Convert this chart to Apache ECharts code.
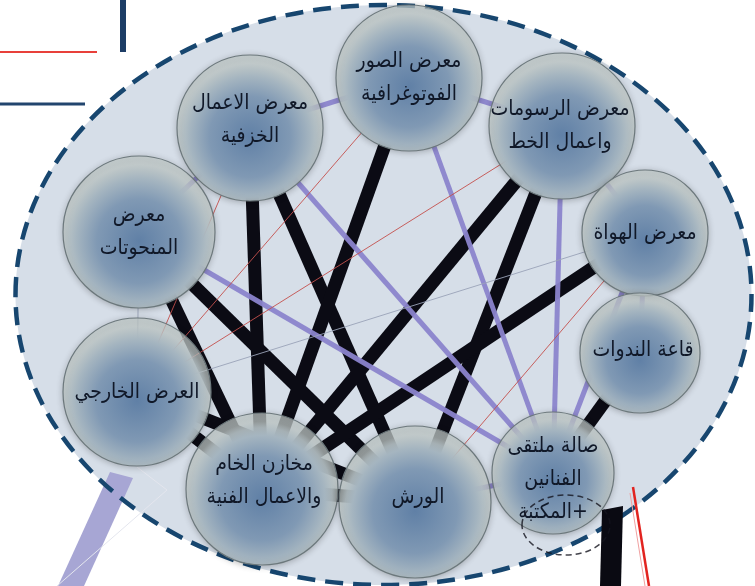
<!DOCTYPE html>
<html><head><meta charset="utf-8">
<script src="https://cdn.jsdelivr.net/npm/echarts@6/dist/echarts.min.js"></script>
<style>html,body{margin:0;padding:0;background:#fff}#c{width:755px;height:586px}</style>
</head><body><div id="c"></div>
<script>
// ---- data ----
const nodeNames = [
  'معرض الصور\nالفوتوغرافية',
  'معرض الرسومات\nواعمال الخط',
  'معرض الاعمال\nالخزفية',
  'معرض\nالمنحوتات',
  'معرض الهواة',
  'قاعة الندوات',
  'العرض الخارجي',
  'مخازن الخام\nوالاعمال الفنية',
  'الورش',
  'صالة ملتقى\nالفنانين\n\u200F+المكتبة'
];
// layout coordinates of the node centres
const nodeX = [409, 562, 250, 139, 645, 640, 137, 262, 415, 553];
const nodeY = [78, 126, 128, 232, 233, 353, 392, 489, 502, 473];
// relationships (indices into nodeNames)
const strongLinks = [[2,7],[2,8],[0,7],[1,7],[1,8],[3,7],[3,8],[4,7],[6,8],[6,7],[7,8],[5,9]];
const mediumLinks = [[0,1],[0,2],[2,3],[1,4],[4,5],[0,9],[1,9],[4,9],[2,9],[3,9],[8,9]];
const weakLinks   = [[2,6],[0,6],[1,6],[4,8]];
const faintLinks  = [[3,6],[4,6]];

// ---- presentation (kept apart from data) ----
const nodeSizes = [146, 146, 146, 152, 126, 120, 148, 152, 152, 122];
const labelOffsets = [[0,0],[-2,0],[0,-8],[0,0],[0,1],[3,-2],[0,1],[2,-8],[3,-4],[0,7]];
const linkStyles = {
  strong: {width: 13, color: '#0b0b14', opacity: 1},
  medium: {width: 5, color: '#8b84cc', opacity: 0.95},
  weak:   {width: 1, color: '#c4504c', opacity: 0.9},
  faint:  {width: 1, color: '#9aa3b8', opacity: 0.9}
};

const links = [];
[[strongLinks,'strong'],[mediumLinks,'medium'],[weakLinks,'weak'],[faintLinks,'faint']].forEach(([arr,k])=>{
  arr.forEach(([s,t])=>links.push({source:s, target:t, lineStyle:Object.assign({curveness:0}, linkStyles[k])}));
});

const nodeFill = {type:'radial', x:0.5, y:0.56, r:0.5, colorStops:[
  {offset:0, color:'rgba(96,128,166,1)'},
  {offset:0.55, color:'rgba(128,153,180,1)'},
  {offset:0.82, color:'rgba(165,181,192,1)'},
  {offset:0.92, color:'rgba(182,194,198,0.9)'},
  {offset:1, color:'rgba(198,207,205,0.72)'}
]};

const chart = echarts.init(document.getElementById('c'), null, {renderer:'canvas'});
const CX = 383.5, CY = 295, RX = 368, RY = 290;
chart.setOption({
  animation: false,
  backgroundColor: '#ffffff',
  grid: {left:0, right:0, top:0, bottom:0},
  xAxis: {type:'value', min:0, max:755, show:false},
  yAxis: {type:'value', min:0, max:586, inverse:true, show:false},
  graphic: [
    {type:'ellipse', z:-10, shape:{cx:CX, cy:CY, rx:RX, ry:RY}, style:{fill:'#d6dee8', stroke:null}},
    // stubs leaving the frame
    {type:'polygon', z:-8, shape:{points:[[110,472],[133,478],[84,586],[58,586]]}, style:{fill:'#a7a6d4'}},
    {type:'polyline', z:-8, shape:{points:[[137,467],[167,490],[57,586]]}, style:{stroke:'#e4e6ee', lineWidth:1, fill:null}},
    {type:'ellipse', z:-5, shape:{cx:CX, cy:CY, rx:RX, ry:RY}, style:{fill:null, stroke:'#17466f', lineWidth:4.5, lineDash:[18,10]}},
    {type:'polygon', z:-3, shape:{points:[[602,510],[623,506],[621,586],[600,586]]}, style:{fill:'#0a0a12'}},
    {type:'line', z:-3, shape:{x1:633, y1:487, x2:649, y2:586}, style:{stroke:'#e2231f', lineWidth:2.5}},
    {type:'line', z:-3, shape:{x1:630, y1:493, x2:645, y2:586}, style:{stroke:'#f0a0a0', lineWidth:1}},
    // fragments at top left
    {type:'line', z:-3, shape:{x1:123, y1:0, x2:123, y2:52}, style:{stroke:'#1d3d66', lineWidth:6}},
    {type:'line', z:-3, shape:{x1:0, y1:52, x2:97, y2:52}, style:{stroke:'#e8403a', lineWidth:2}},
    {type:'line', z:-3, shape:{x1:0, y1:104, x2:85, y2:104}, style:{stroke:'#22456e', lineWidth:3}},
    // dashed outline of the library
    {type:'ellipse', z:50, shape:{cx:566, cy:525, rx:44, ry:30}, style:{fill:null, stroke:'rgba(20,20,30,0.8)', lineWidth:1.5, lineDash:[6,4]}}
  ],
  series: [{
    type: 'graph',
    coordinateSystem: 'cartesian2d',
    xAxisIndex: 0, yAxisIndex: 0,
    symbol: 'circle',
    z: 2,
    data: nodeNames.map((n,i)=>({
      name: n, value: [nodeX[i], nodeY[i]], symbolSize: nodeSizes[i],
      label: {offset: labelOffsets[i]}
    })),
    links: links,
    itemStyle: {color: nodeFill, borderColor:'#6c787c', borderWidth:1.2, shadowBlur:6, shadowColor:'rgba(0,0,0,0.25)', shadowOffsetY:1},
    label: {show:true, position:'inside', formatter:'{b}', fontFamily:"'DejaVu Sans Condensed','DejaVu Sans'", fontSize:21, color:'#101828', lineHeight:33, align:'center'},
    emphasis: {disabled:true},
    silent: true
  }]
});
</script></body></html>
